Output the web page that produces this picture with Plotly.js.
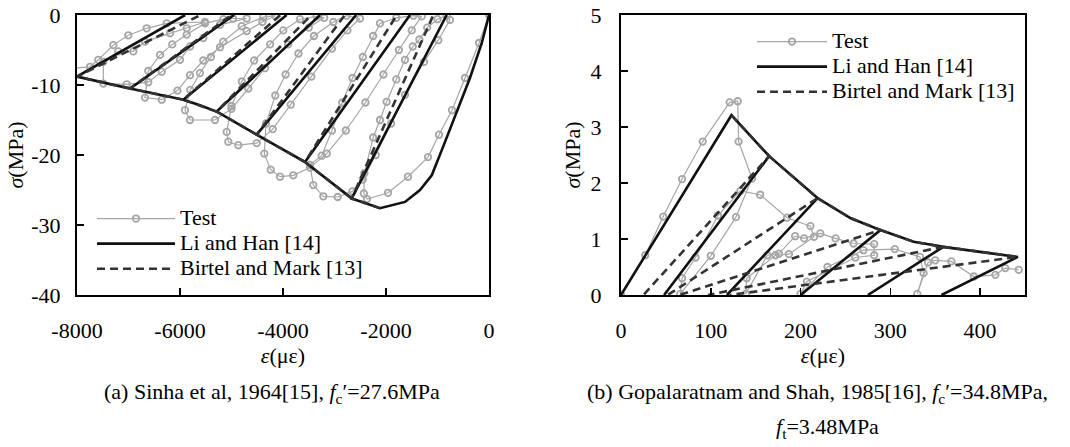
<!DOCTYPE html>
<html>
<head>
<meta charset="utf-8">
<script src="https://cdn.plot.ly/plotly-3.0.1.min.js"></script>
<style>
html,body{margin:0;padding:0;background:#fff;}
#chart{width:1070px;height:447px;}
</style>
</head>
<body>
<div id="chart"></div>
<script>
// ---------- (a) Sinha et al. 1964 : compression (strain in µε, stress in MPa) ----------
const testStrainA = [0,-194,-466,-718,-971,-1184,-1573,-1961,-2369,-2430,
  -2420,-2250,-2117,-1987,-1800,-1631,-1480,-1352,-1200,-1000,-822,
  -757,-984,-1262,-1631,-1900,-2200,-2450,-2654,
  -2938,-3217,-3412,-3476,
  -3248,-3050,-2850,-2650,-2450,-2250,-2117,-1800,-1470,
  -1307,-1500,-1750,-2050,-2400,-2780,-3150,-3476,
  -3800,-4058,-4239,-4363,
  -4330,-4150,-3950,-3700,-3400,-3023,-2764,
  -2505,-2750,-3050,-3450,-3850,-4200,-4511,
  -4868,-5062,-5093,
  -5000,-4800,-4560,-4250,-3994,-3670,-3346,
  -3200,-3500,-3900,-4350,-4674,-5000,-5320,
  -5806,-5903,
  -5800,-5612,-5400,-5159,-4802,-4382,-4150,
  -4400,-4705,-5223,-5548,-5806,-6050,-6355,
  -6680,
  -6616,-6388,-6150,-5870,-5515,-5159,-4971,
  -4705,-5223,-5548,-5806,-6000,-6355,-6616,-7035,
  -7489,
  -7489,-7198,-6907,-6680,-6194,-5870,-5515,
  -6258,-6647,-7004,-7295,-7586,-7748,-8100];
const testStressA = [0,-4.0,-9.0,-13.6,-17.1,-20.3,-23.1,-25.4,-26.3,-25.5,
  -22.6,-17.5,-15.0,-12.4,-9.2,-6.4,-4.5,-3.5,-1.8,-0.6,-0.1,
  -0.7,-3.6,-6.7,-11.4,-15.5,-20.0,-23.5,-25.2,
  -26.0,-25.9,-24.3,-21.4,
  -20.1,-16.5,-12.5,-9.0,-6.0,-3.0,-1.2,-0.4,-0.1,
  -0.2,-2.2,-5.0,-8.5,-12.5,-16.5,-19.8,-21.8,
  -22.9,-23.1,-22.1,-19.8,
  -15.5,-11.5,-8.5,-5.5,-3.0,-1.0,-0.1,
  -0.5,-2.2,-4.8,-8.8,-12.8,-16.3,-18.3,
  -18.6,-18.1,-16.7,
  -13.0,-9.5,-6.5,-4.2,-2.2,-0.6,-0.2,
  -0.4,-1.8,-4.2,-7.6,-10.5,-13.4,-15.0,
  -15.0,-13.6,
  -10.7,-8.3,-6.0,-3.8,-1.6,-0.3,-0.1,
  -1.0,-2.3,-4.6,-6.5,-8.6,-10.8,-12.1,
  -11.8,
  -8.0,-5.7,-4.2,-2.8,-1.2,-0.6,-0.5,
  -0.5,-1.4,-3.3,-4.5,-6.4,-8.1,-9.6,-9.9,
  -9.8,
  -6.7,-5.2,-5.2,-3.8,-2.6,-1.9,-1.0,
  -1.2,-1.9,-2.9,-4.3,-6.4,-7.4,-7.6];
const lhStrainA = [0,-140,-370,-630,-890,-1112,-1340,-1631,-2117,-2666,-822,-2666,-3573,-1534,-3573,
  -4511,-2580,-4511,-5288,-3280,-5288,-5612,-5936,-3930,-5936,-6971,-4950,-6971,-8000,-5900];
const lhStressA = [0,-4,-9,-14,-18.8,-22.9,-25.0,-26.7,-27.6,-26.2,0,-26.2,-21.0,0,-21.0,
  -17.1,0,-17.1,-13.8,0,-13.8,-12.9,-12.1,0,-12.1,-10.5,0,-10.5,-8.8,0];
const bmStrainA = [-2117,-2666,-1080,null,-2666,-3573,-1790,null,-3573,-4511,-2800,null,-4511,-5288,-3450,null,
  -5288,-5612,-5936,-4050,null,-5936,-6971,-5000,null,-6971,-8000,-5600];
const bmStressA = [-27.6,-26.2,0,null,-26.2,-21.0,0,null,-21.0,-17.1,0,null,-17.1,-13.8,0,null,
  -13.8,-12.9,-12.1,0,null,-12.1,-10.5,0,null,-10.5,-8.8,0];

// ---------- (b) Gopalaratnam and Shah 1985 : tension ----------
const testStrainB = [0,27,47,68,91,121,130,131,146,128,100,66,68,83,108,133,155,185,211,215,187,172,140,139,
  163,176,194,204,222,239,259,282,282,261,207,200,230,270,305,333,337,330,342,350,368,393,417,428,443];
const testStressB = [0,0.71,1.40,2.07,2.74,3.44,3.46,2.74,2.08,1.39,0.70,0.02,0.30,0.67,1.42,1.86,1.79,1.38,1.23,1.04,0.73,0.71,0.30,0.02,
  0.71,0.74,1.05,1.01,1.10,1.01,0.92,0.91,0.71,0.67,0.24,0.02,0.50,0.80,0.82,0.68,0.39,0.02,0.58,0.62,0.60,0.33,0.36,0.48,0.45];
const lhStrainB = [0,123,165,48,165,219,118,219,256,289,200,289,326,359,275,359,400,442,357];
const lhStressB = [0,3.21,2.48,0,2.48,1.73,0,1.73,1.37,1.16,0,1.16,0.95,0.86,0,0.86,0.77,0.68,0];
const bmStrainB = [123,165,25,null,165,219,52,null,219,256,289,65,null,289,326,359,97,null,359,400,442,121];
const bmStressB = [3.21,2.48,0,null,2.48,1.73,0,null,1.73,1.37,1.16,0,null,1.16,0.95,0.86,0,null,0.86,0.77,0.68,0];

const xTicksA = [-8000,-6000,-4000,-2000,0];
const xTickTextA = ['-8000','-6000','-4000','-2000','0'];
const yTicksA = [-40,-30,-20,-10,0];
const yTickTextA = ['-40','-30','-20','-10','0'];
const xTicksB = [0,100,200,300,400];
const yTicksB = [0,1,2,3,4,5];

const seriesNames = ['Test','Li and Han [14]','Birtel and Mark [13]'];

const FONT = 'Liberation Serif';
const FS = 22;
const NB = '\u00a0';
const testStyle = {mode:'lines+markers', line:{color:'#a6a6a6', width:1.2},
  marker:{symbol:'circle-open', size:6.5, color:'#a6a6a6', line:{width:1.8, color:'#a6a6a6'}}};
const lhStyle = {mode:'lines', line:{color:'#111111', width:2.6}};
const bmStyle = {mode:'lines', line:{color:'#333333', width:2.6, dash:'8px,5px'}};

// legend row spacing follows legend.font.size; the visible text size is set on the span
function legName(n) { return '<span style="font-size:' + FS + 'px">' + n + '</span>'; }

function tr(x, y, name, style, xa, ya, leg) {
  return Object.assign({type:'scatter', x:x, y:y, name:legName(name), xaxis:xa, yaxis:ya, legend:leg,
    connectgaps:false, hoverinfo:'skip'}, JSON.parse(JSON.stringify(style)));
}

const data = [
  tr(testStrainA, testStressA, seriesNames[0], testStyle, 'x', 'y', 'legend'),
  tr(lhStrainA, lhStressA, seriesNames[1], lhStyle, 'x', 'y', 'legend'),
  tr(bmStrainA, bmStressA, seriesNames[2], bmStyle, 'x', 'y', 'legend'),
  tr(testStrainB, testStressB, seriesNames[0], testStyle, 'x2', 'y2', 'legend2'),
  tr(lhStrainB, lhStressB, seriesNames[1], lhStyle, 'x2', 'y2', 'legend2'),
  tr(bmStrainB, bmStressB, seriesNames[2], bmStyle, 'x2', 'y2', 'legend2')
];

const W = 1070, H = 447;
const px = v => v / W, py = v => 1 - v / H;
const tf = s => ({family:FONT, size:s || FS, color:'#000'});

const axisCommon = {showline:true, mirror:true, linecolor:'#000', linewidth:2, showgrid:false, zeroline:false,
  ticks:'inside', ticklen:7, tickwidth:1.6, tickcolor:'#000'};

function ax(extra) { return Object.assign({}, axisCommon, {tickfont:tf()}, extra); }

const layout = {
  width: W, height: H, margin:{l:0, r:0, t:0, b:0}, paper_bgcolor:'#fff', plot_bgcolor:'#fff',
  font:tf(),
  xaxis: ax({domain:[px(77), px(489)], range:[-8000,0], tickmode:'array', tickvals:xTicksA, ticktext:xTickTextA,
    ticklabelstandoff:15, title:{text:'<i>ε</i>(με)', standoff:3, font:tf()}, anchor:'y'}),
  yaxis: ax({domain:[py(295), py(15)], range:[-40,0], tickmode:'array', tickvals:yTicksA, ticktext:yTickTextA,
    ticklabelstandoff:10, title:{text:'<i>σ</i>(MPa)' + NB + NB + NB, standoff:2, font:tf()}, anchor:'x'}),
  xaxis2: ax({domain:[px(621), px(1025)], range:[0,450], tickmode:'array', tickvals:xTicksB,
    ticklabelstandoff:15, title:{text:'<i>ε</i>(με)', standoff:3, font:tf()}, anchor:'y2'}),
  yaxis2: ax({domain:[py(295), py(15)], range:[0,5], tickmode:'array', tickvals:yTicksB,
    ticklabelstandoff:13, title:{text:'<i>σ</i>(MPa)' + NB + NB, standoff:4, font:tf()}, anchor:'x2'}),
  legend: {x:px(92), y:py(201), xanchor:'left', yanchor:'top', bgcolor:'rgba(0,0,0,0)', borderwidth:0,
    font:tf(17), itemwidth:78, tracegroupgap:0, itemclick:false},
  legend2: {x:px(752), y:py(24), xanchor:'left', yanchor:'top', bgcolor:'rgba(0,0,0,0)', borderwidth:0,
    font:tf(17), itemwidth:70, tracegroupgap:0, itemclick:false},
  showlegend: true,
  annotations: [
    {xref:'paper', yref:'paper', x:px(272), y:py(393), xanchor:'center', yanchor:'middle', showarrow:false,
     text:'(a) Sinha et al, 1964[15], <i>f</i><sub>c</sub>′=27.6MPa', font:tf()},
    {xref:'paper', yref:'paper', x:px(817), y:py(393), xanchor:'center', yanchor:'middle', showarrow:false,
     text:'(b) Gopalaratnam and Shah, 1985[16], <i>f</i><sub>c</sub>′=34.8MPa,', font:tf()},
    {xref:'paper', yref:'paper', x:px(827), y:py(428), xanchor:'center', yanchor:'middle', showarrow:false,
     text:'<i>f</i><sub>t</sub>=3.48MPa', font:tf()}
  ]
};

Plotly.newPlot('chart', data, layout, {staticPlot:true, displayModeBar:false});
</script>
</body>
</html>
